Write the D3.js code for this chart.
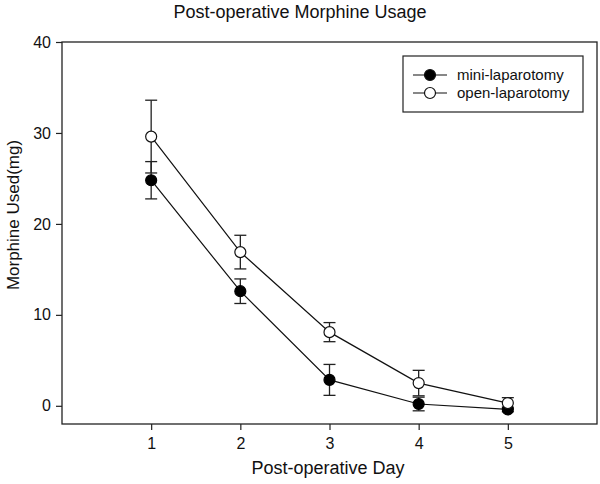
<!DOCTYPE html>
<html><head><meta charset="utf-8">
<script src="https://cdn.jsdelivr.net/npm/d3@7"></script>
<style>body{margin:0;background:#fff}svg{display:block;font-family:"Liberation Sans",Arial,sans-serif}</style>
</head><body><svg id="c" width="600" height="484"></svg>
<script>
const days = [1, 2, 3, 4, 5];
const miniMean = [24.8, 12.6, 2.85, 0.2, -0.4];
const miniErr = [2.05, 1.35, 1.7, 0.75, 0.25];
const openMean = [29.6, 16.9, 8.1, 2.5, 0.3];
const openErr = [4.0, 1.85, 1.05, 1.4, 0.6];
const xTicks = [1, 2, 3, 4, 5];
const yTicks = [0, 10, 20, 30, 40];
const seriesNames = ["mini-laparotomy", "open-laparotomy"];

const svg = d3.select("#c");
const x = d3.scaleLinear().domain([0, 6]).range([62, 597]);
const y = d3.scaleLinear().domain([-2, 40]).range([424, 42]);

svg.append("rect").attr("x", 62).attr("y", 42).attr("width", 535).attr("height", 382)
  .attr("fill", "none").attr("stroke", "#222").attr("stroke-width", 1.3);

const yAxis = svg.append("g").attr("transform", "translate(62,0)")
  .call(d3.axisLeft(y).tickValues(yTicks).tickFormat(d3.format("d")).tickSize(6).tickPadding(5));
const xAxis = svg.append("g").attr("transform", "translate(0,424)")
  .call(d3.axisBottom(x).tickValues(xTicks).tickFormat(d3.format("d")).tickSize(6).tickPadding(8));
[yAxis, xAxis].forEach(a => {
  a.select(".domain").remove();
  a.selectAll("line").attr("stroke", "#222").attr("stroke-width", 1.2);
  a.selectAll("text").attr("font-size", 16).attr("fill", "#111")
   .attr("font-family", "Liberation Sans, Arial, sans-serif");
});

svg.append("text").attr("x", 300).attr("y", 18).attr("text-anchor", "middle")
  .attr("font-size", 18).attr("fill", "#111").text("Post-operative Morphine Usage");
svg.append("text").attr("x", 328).attr("y", 474).attr("text-anchor", "middle")
  .attr("font-size", 18).attr("fill", "#111").text("Post-operative Day");
svg.append("text").attr("transform", "translate(19,215) rotate(-90)").attr("text-anchor", "middle")
  .attr("font-size", 17).attr("fill", "#111").text("Morphine Used(mg)");

function drawSeries(means, errs) {
  const pts = days.map((d, i) => ({d, m: means[i], e: errs[i]}));
  svg.append("path").datum(pts)
    .attr("d", d3.line().x(p => x(p.d)).y(p => y(p.m)))
    .attr("fill", "none").attr("stroke", "#111").attr("stroke-width", 1.2);
  const g = svg.append("g").selectAll("g").data(pts).join("g").attr("stroke", "#222").attr("stroke-width", 1.3);
  g.append("line").attr("x1", p => x(p.d)).attr("x2", p => x(p.d))
    .attr("y1", p => y(p.m + p.e)).attr("y2", p => y(p.m - p.e));
  g.append("line").attr("x1", p => x(p.d) - 6).attr("x2", p => x(p.d) + 6)
    .attr("y1", p => y(p.m + p.e)).attr("y2", p => y(p.m + p.e));
  g.append("line").attr("x1", p => x(p.d) - 6).attr("x2", p => x(p.d) + 6)
    .attr("y1", p => y(p.m - p.e)).attr("y2", p => y(p.m - p.e));
  return pts;
}
const pm = drawSeries(miniMean, miniErr);
const po = drawSeries(openMean, openErr);
svg.append("g").selectAll("circle").data(pm).join("circle")
  .attr("cx", p => x(p.d)).attr("cy", p => y(p.m)).attr("r", 5.5)
  .attr("fill", "#000").attr("stroke", "#000").attr("stroke-width", 1.2);
svg.append("g").selectAll("circle").data(po).join("circle")
  .attr("cx", p => x(p.d)).attr("cy", p => y(p.m)).attr("r", 5.5)
  .attr("fill", "#fff").attr("stroke", "#111").attr("stroke-width", 1.2);

// legend
const lg = svg.append("g");
lg.append("rect").attr("x", 403).attr("y", 56).attr("width", 180).attr("height", 56)
  .attr("fill", "#fff").attr("stroke", "#222").attr("stroke-width", 1.2);
const fills = ["#000", "#fff"];
seriesNames.forEach((n, i) => {
  const yy = 75 + i * 18;
  lg.append("line").attr("x1", 413).attr("x2", 447).attr("y1", yy).attr("y2", yy)
    .attr("stroke", "#111").attr("stroke-width", 1.2);
  lg.append("circle").attr("cx", 430).attr("cy", yy).attr("r", 5.5)
    .attr("fill", fills[i]).attr("stroke", "#111").attr("stroke-width", 1.2);
  lg.append("text").attr("x", 457).attr("y", yy + 5).attr("font-size", 15).attr("fill", "#111").text(n);
});
</script></body></html>
